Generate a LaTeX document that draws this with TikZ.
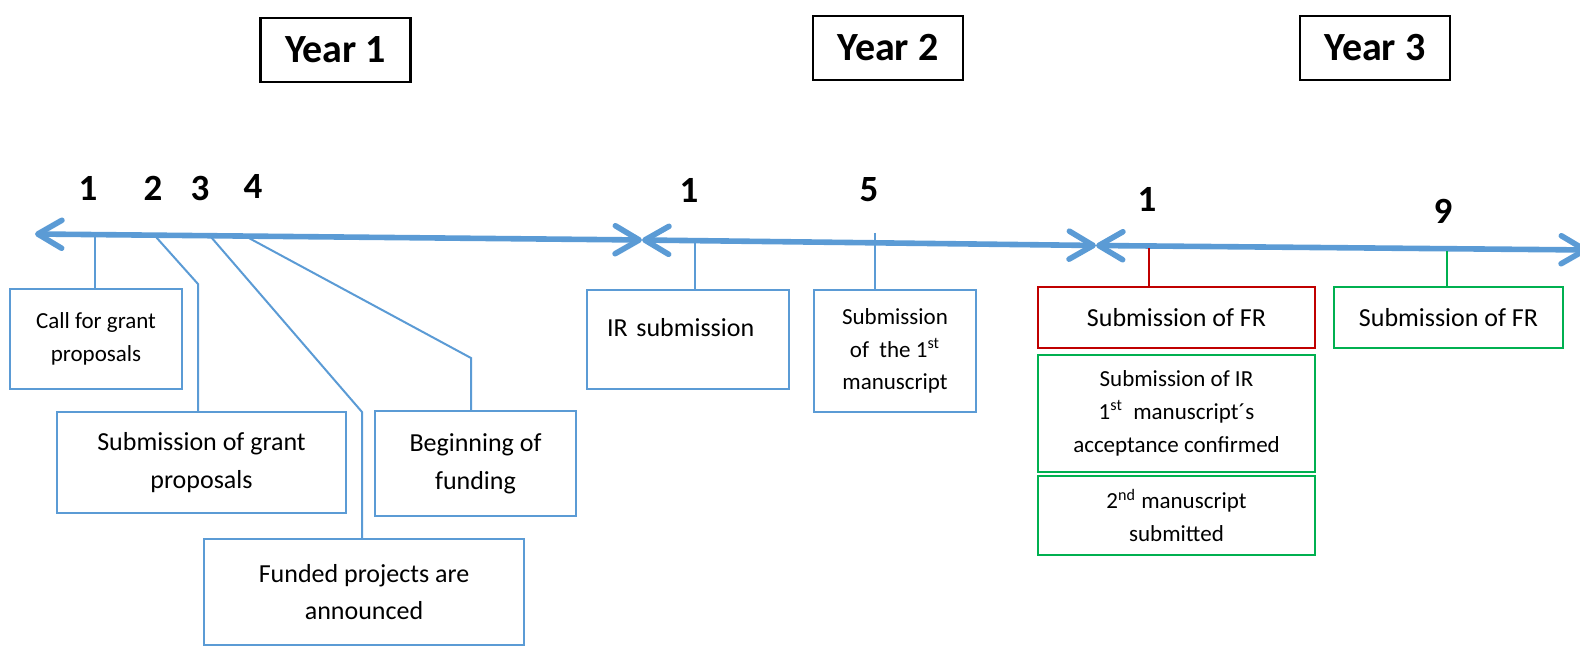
\documentclass[tikz,border=0pt]{standalone}
\usepackage{fontspec}
\setmainfont{Carlito}
\usetikzlibrary{arrows.meta, positioning}
\usepackage{xcolor}
\definecolor{lineblue}{RGB}{91,155,213}
\definecolor{frred}{RGB}{192,0,0}
\definecolor{okgreen}{RGB}{0,176,80}
\newcommand\smalltext{\fontsize{11.5}{16.4}\selectfont}
\newcommand\bigtext{\fontsize{13}{18.8}\selectfont}
\newcommand\yeartext{\fontsize{20}{24}\selectfont\bfseries}
\newcommand\monthtext{\fontsize{18.5}{22}\selectfont\bfseries}

\begin{document}
\begin{tikzpicture}[
                x=0.5pt, y=-0.5pt,
                yearnode/.style={shape=rectangle, draw=black, line width=1.2pt, font=\yeartext, minimum width=75pt, minimum height=32pt},
                monthnode/.style={font=\monthtext, inner sep=0pt},
                bluebox/.style={shape=rectangle, draw=lineblue, line width=1pt, align=center, inner sep=2pt},
                redbox/.style={bluebox, draw=frred},
                greenbox/.style={bluebox, draw=okgreen},
                axis/.style={draw=lineblue, line width=2.8pt, {Straight Barb[length=12pt, width=14pt, round]}-{Straight Barb[length=12pt, width=14pt, round]}},
                tick/.style={draw=lineblue, line width=1pt}
                ]
                \useasboundingbox (0,0) rectangle (1580,646);

                %% Years
                \node[yearnode] (year1) at (335.5,50) {Year 1};
                \node[yearnode] (year2) at (888,48) {Year 2};
                \node[yearnode] (year3) at (1375,48) {Year 3};

                        % Months
\node[monthnode] (m11) at (88,188) {1};
\node[monthnode] (m12) at (153,188) {2};
\node[monthnode] (m13) at (200,188) {3};
\node[monthnode] (m14) at (253,186) {4};
\node[monthnode] (m21) at (689,190) {1};
\node[monthnode] (m25) at (869,190) {5};
\node[monthnode] (m31) at (1147,199) {1};
\node[monthnode] (m39) at (1443,211) {9};

%% Timeline
\coordinate (start) at (35,234);
\coordinate (join1) at (642,240);
\coordinate (join2) at (1096,245.5);
\coordinate (stop) at (1588,250);
\draw[axis] (start) -- (join1);
\draw[axis] (join1) -- (join2);
\draw[axis] (join2) -- (stop);

%% Boxes
\node[bluebox, font=\smalltext, minimum width=86pt, minimum height=50pt] (call) at (96,339) {Call for grant\\proposals};
\node[bluebox, font=\bigtext, minimum width=144.5pt, minimum height=50.5pt] (subgrant) at (201.5,462.5) {Submission of grant\\proposals};
\node[bluebox, font=\bigtext, minimum width=160pt, minimum height=53pt] (funded) at (364,592) {Funded projects are\\announced};
\node[bluebox, font=\bigtext, minimum width=100.5pt, minimum height=52.5pt] (begin) at (475.5,463.5) {Beginning of\\funding};
\node[bluebox, font=\bigtext, minimum width=101pt, minimum height=49.5pt, text width=81pt, align=left, text depth=12pt] (irsub) at (688,339.5) {IR submission};
\node[bluebox, font=\smalltext, minimum width=81pt, minimum height=61pt] (firstms) at (895,351) {Submission\\of\ \ the 1\textsuperscript{st}\\manuscript};
\node[redbox, font=\bigtext, minimum width=138.5pt, minimum height=30.5pt] (frone) at (1176.5,317.5) {Submission of FR};
\node[greenbox, font=\smalltext, minimum width=138.5pt, minimum height=58.5pt] (irtwo) at (1176.5,413.5) {Submission of IR\\1\textsuperscript{st}\ \ manuscript´s\\acceptance confirmed};
\node[greenbox, font=\smalltext, minimum width=138.5pt, minimum height=39.5pt] (secondms) at (1176.5,515.5) {2\textsuperscript{nd} manuscript\\submitted};
\node[greenbox, font=\bigtext, minimum width=114.5pt, minimum height=30.5pt] (frtwo) at (1448.5,317.5) {Submission of FR};

%% Ticks
\coordinate (t1) at (95,237);
\coordinate (t2) at (156,237);
\coordinate (k2) at (198,284);
\coordinate (t3) at (211,237);
\coordinate (k3) at (362,412);
\coordinate (t4) at (247,237);
\coordinate (k4) at (471,358);
\coordinate (t5) at (695,241);
\coordinate (t6) at (875,233);
\coordinate (t7) at (1149,248);
\coordinate (t8) at (1447,251);
\draw[tick] (t1) -- (t1 |- call.north);
\draw[tick] (t2) -- (k2) -- (k2 |- subgrant.north);
\draw[tick] (t3) -- (k3) -- (k3 |- funded.north);
\draw[tick] (t4) -- (k4) -- (k4 |- begin.north);
\draw[tick] (t5) -- (t5 |- irsub.north);
\draw[tick] (t6) -- (t6 |- firstms.north);
\draw[tick, draw=frred] (t7) -- (t7 |- frone.north);
\draw[tick, draw=okgreen] (t8) -- (t8 |- frtwo.north);
\end{tikzpicture}
\end{document}
